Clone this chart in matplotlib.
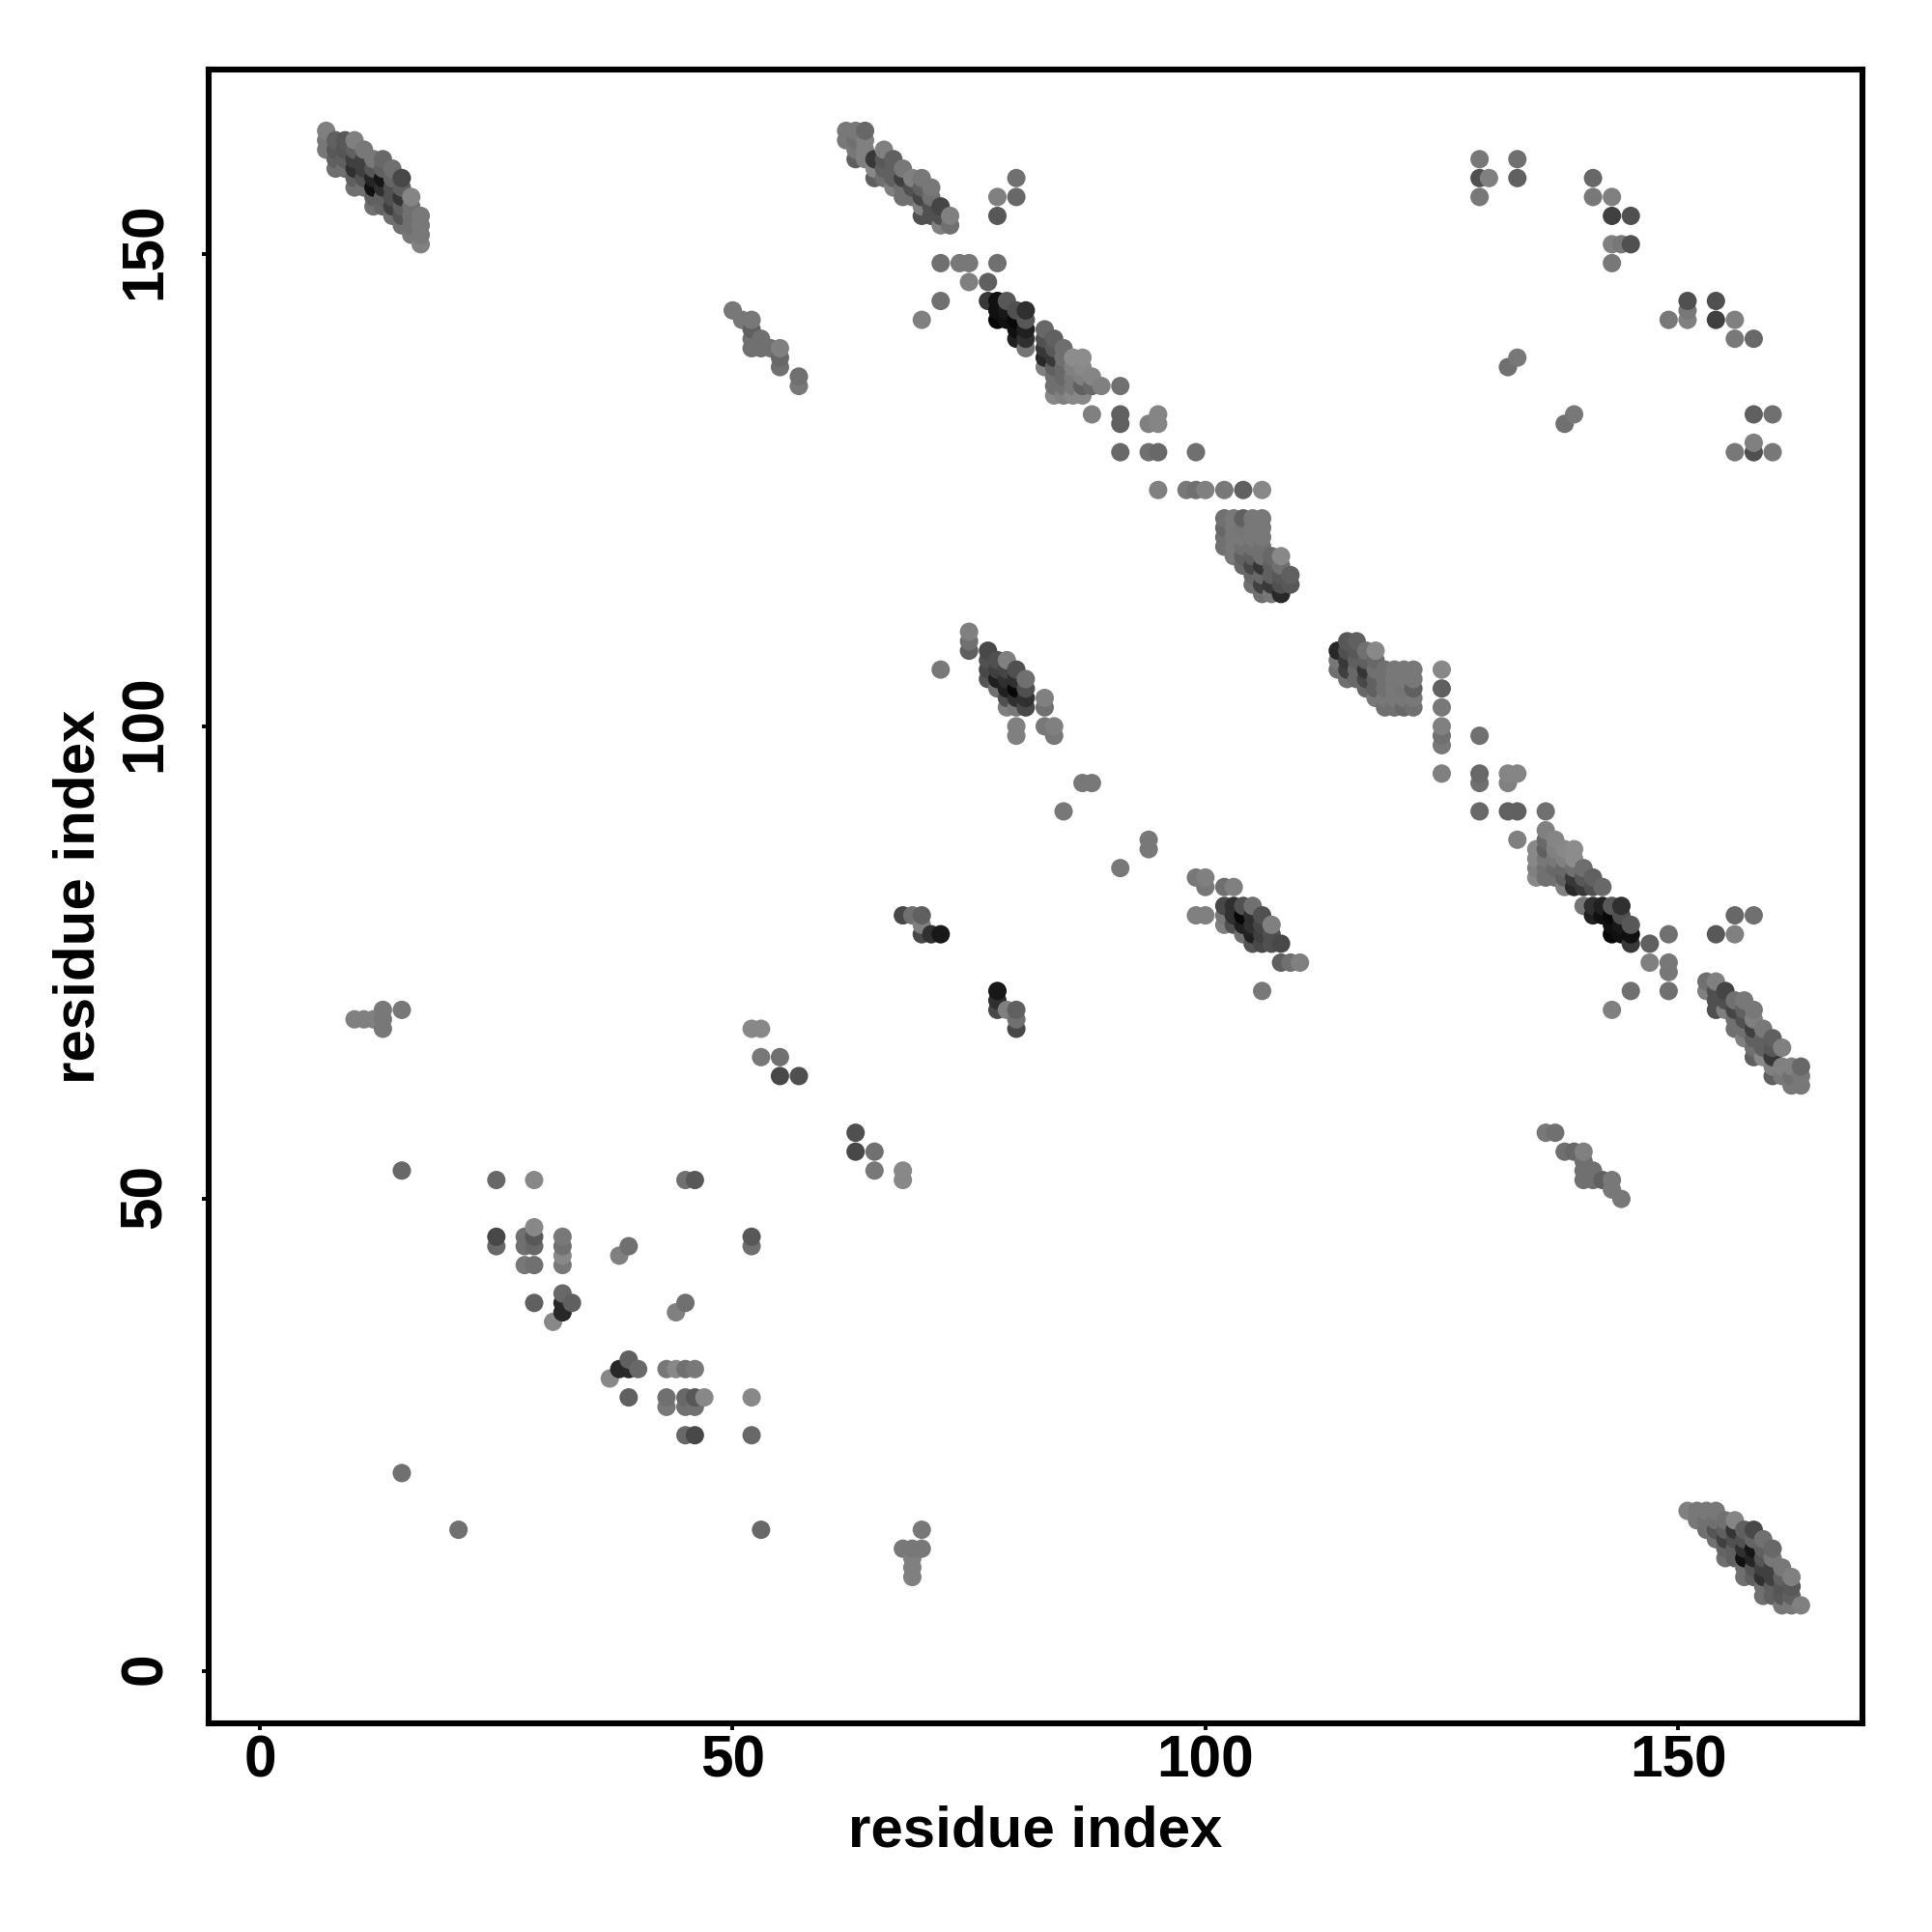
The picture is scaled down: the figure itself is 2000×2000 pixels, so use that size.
import matplotlib
matplotlib.use("Agg")
import matplotlib.pyplot as plt
from matplotlib.transforms import ScaledTranslation

# Contacts above the diagonal: (residue i, residue j, grey level 0-255).
helix_a = [
    (7,161,0x78),(7,162,0x78),(7,163,0x80),
    (8,159,0x70),(8,160,0x60),(8,161,0x58),(8,162,0x60),
    (9,159,0x70),(9,160,0x60),(9,161,0x55),(9,162,0x58),
    (10,157,0x70),(10,158,0x60),(10,159,0x30),(10,160,0x40),(10,161,0x60),(10,162,0x80),
    (11,157,0x70),(11,158,0x55),(11,159,0x40),(11,160,0x40),(11,161,0x78),
    (12,155,0x70),(12,156,0x60),(12,157,0x10),(12,158,0x25),(12,159,0x55),(12,160,0x78),
    (13,155,0x65),(13,156,0x60),(13,157,0x30),(13,158,0x15),(13,159,0x60),(13,160,0x68),
    (14,154,0x70),(14,155,0x40),(14,156,0x50),(14,157,0x50),(14,158,0x65),(14,159,0x70),
    (15,153,0x70),(15,154,0x55),(15,155,0x60),(15,156,0x35),(15,157,0x60),(15,158,0x48),
    (16,152,0x78),(16,153,0x70),(16,154,0x70),(16,155,0x70),(16,156,0x85),
    (17,151,0x80),(17,152,0x78),(17,153,0x78),(17,154,0x78),
]
helix_b = [
    (62,162,0x78),(62,163,0x78),
    (63,160,0x60),(63,161,0x78),(63,162,0x70),(63,163,0x78),
    (64,160,0x80),(64,161,0x80),(64,162,0x80),(64,163,0x68),
    (65,158,0x60),(65,159,0x88),(65,160,0x38),
    (66,158,0x70),(66,159,0x60),(66,160,0x58),(66,161,0x80),
    (67,157,0x80),(67,158,0x60),(67,159,0x60),(67,160,0x60),
    (68,156,0x70),(68,157,0x70),(68,158,0x40),(68,159,0x78),
    (69,156,0x70),(69,157,0x50),(69,158,0x80),
    (70,154,0x50),(70,155,0x80),(70,156,0x45),(70,157,0x60),(70,158,0x78),
    (71,154,0x50),(71,155,0x50),(71,156,0x70),(71,157,0x78),
    (72,153,0x80),(72,154,0x50),(72,155,0x45),
    (73,153,0x70),(73,154,0x80),
]
helix_c = [
    (77,145,0x38),
    (78,143,0x08),(78,144,0x10),(78,145,0x10),
    (79,143,0x10),(79,144,0x18),(79,145,0x58),
    (80,141,0x20),(80,142,0x10),(80,143,0x08),(80,144,0x50),
    (81,140,0x75),(81,141,0x30),(81,142,0x20),(81,143,0x58),(81,144,0x30),
    (83,138,0x80),(83,139,0x28),(83,140,0x38),(83,141,0x50),(83,142,0x68),
    (84,135,0x88),(84,136,0x70),(84,137,0x70),(84,138,0x60),(84,139,0x38),(84,140,0x58),(84,141,0x60),
    (85,135,0x80),(85,136,0x70),(85,137,0x68),(85,138,0x68),(85,139,0x70),(85,140,0x6e),
    (86,135,0x88),(86,136,0x78),(86,137,0x78),(86,138,0x80),(86,139,0x8c),
    (87,135,0x88),(87,136,0x60),(87,137,0x80),(87,138,0x88),(87,139,0x8c),
    (88,136,0x68),(88,137,0x85),
    (89,136,0x80),
]
helix_d = [
    (102,119,0x70),(102,120,0x70),(102,121,0x68),(102,122,0x70),
    (103,118,0x78),(103,119,0x78),(103,120,0x78),(103,121,0x78),(103,122,0x78),
    (104,117,0x68),(104,118,0x60),(104,119,0x70),(104,120,0x78),(104,121,0x75),(104,122,0x60),
    (105,115,0x70),(105,116,0x68),(105,117,0x48),(105,118,0x60),(105,119,0x70),(105,120,0x78),(105,121,0x78),(105,122,0x78),
    (106,114,0x70),(106,115,0x40),(106,116,0x68),(106,117,0x35),(106,118,0x70),(106,119,0x70),(106,120,0x78),(106,121,0x78),(106,122,0x78),
    (107,114,0x78),(107,115,0x38),(107,116,0x60),(107,117,0x60),(107,118,0x68),
    (108,114,0x28),(108,115,0x50),(108,116,0x58),(108,117,0x70),(108,118,0x88),
    (109,115,0x58),(109,116,0x60),
]
helix_e = [
    (72,106,0x78),
    (75,108,0x60),(75,109,0x70),(75,110,0x80),
    (77,105,0x55),(77,106,0x48),(77,107,0x50),(77,108,0x48),
    (78,104,0x70),(78,105,0x20),(78,106,0x40),(78,107,0x50),
    (79,102,0x80),(79,103,0x50),(79,104,0x20),(79,105,0x30),(79,106,0x45),(79,107,0x80),
    (80,99,0x80),(80,100,0x80),(80,102,0x78),(80,103,0x30),(80,104,0x08),(80,105,0x30),(80,106,0x50),
    (81,102,0x48),(81,103,0x30),(81,104,0x50),(81,105,0x70),
    (83,100,0x78),(83,102,0x70),(83,103,0x80),
    (84,99,0x78),(84,100,0x80),
]
strand_h = [
    (50,144,0x78),(51,143,0x78),(52,140,0x70),(52,141,0x70),(52,142,0x60),(52,143,0x78),
    (53,140,0x70),(53,141,0x70),(54,140,0x70),(55,138,0x70),(55,139,0x68),(55,140,0x80),
    (57,136,0x78),(57,137,0x70),
]
low_contacts = [
    (15,21,0x70),(15,53,0x68),(21,15,0x70),
    (10,69,0x80),(11,69,0x80),(12,69,0x80),(13,68,0x78),(13,69,0x78),(13,70,0x78),(15,70,0x78),
    (25,45,0x68),(25,46,0x48),(25,52,0x68),
    (28,43,0x78),(28,45,0x70),(28,46,0x70),
    (29,39,0x60),(29,43,0x70),(29,45,0x68),(29,46,0x58),(29,47,0x88),(29,52,0x88),
    (31,37,0x88),(32,38,0x28),(32,39,0x28),(32,40,0x68),(33,39,0x60),
    (32,43,0x78),(32,44,0x88),(32,45,0x70),(32,46,0x78),
    (38,44,0x80),(39,45,0x70),
    (45,52,0x70),(46,52,0x58),
    (52,68,0x88),(53,68,0x88),(53,65,0x78),(55,65,0x70),(55,63,0x48),(57,63,0x50),
    (68,80,0x48),(69,80,0x70),(70,78,0x48),(70,79,0x80),(70,80,0x60),(71,78,0x30),(72,78,0x18),
    (85,91,0x78),(87,94,0x78),(88,94,0x78),
]
mid_contacts = [
    (70,143,0x80),(72,145,0x70),(72,149,0x70),(74,149,0x78),(75,149,0x78),(78,149,0x70),
    (75,147,0x80),(77,147,0x60),
    (78,154,0x58),(78,156,0x80),(80,156,0x68),(80,158,0x70),
    (88,133,0x80),(91,129,0x68),(91,132,0x60),(91,133,0x60),(91,136,0x70),
    (94,129,0x70),(94,132,0x80),(95,129,0x68),(95,132,0x85),(95,133,0x85),(99,129,0x70),
    (95,125,0x80),(98,125,0x78),(99,125,0x70),(100,125,0x80),(102,125,0x78),(104,125,0x60),(106,125,0x88),
]
high_contacts = [
    (129,156,0x78),(129,158,0x50),(129,160,0x78),(130,158,0x80),(133,158,0x60),(133,160,0x70),
    (132,138,0x70),(133,139,0x78),
    (141,156,0x78),(141,158,0x68),(143,149,0x78),(143,151,0x80),(143,154,0x40),(143,156,0x80),
    (144,151,0x78),(145,151,0x50),(145,154,0x50),
]
x_ticks = [0, 50, 100, 150]
y_ticks = [0, 50, 100, 150]
x_label = "residue index"
y_label = "residue index"

groups = [helix_a, helix_b, helix_c, helix_d, helix_e, strand_h,
          low_contacts, mid_contacts, high_contacts]
# The map is symmetric: each contact is drawn at (i, j) and (j, i), in order of x then y.
seen = {}
for group in groups:
    for i, j, g in group:
        seen[(i, j)] = g
        seen[(j, i)] = g
ordered = sorted(seen.items())
xs = [k[0] for k, _ in ordered]
ys = [k[1] for k, _ in ordered]
cols = [(g / 255, g / 255, g / 255) for _, g in ordered]

plt.rcParams['font.family'] = ['Liberation Sans', 'DejaVu Sans']
plt.rcParams['font.weight'] = 'bold'

fig = plt.figure(figsize=(10, 10), dpi=200)
L, R, T, B = 216.3, 1928.0, 72.0, 1784.0
ax = fig.add_axes([L / 2000, 1 - B / 2000, (R - L) / 2000, (B - T) / 2000])
ax.scatter(xs, ys, s=47, c=cols, linewidths=0, clip_on=True)
ax.set_xlim(-5.4, 169.5)
ax.set_ylim(-5.48, 169.48)
ax.set_xticks(x_ticks)
ax.set_yticks(y_ticks)
for side in ax.spines.values():
    side.set_linewidth(2.2)
ax.tick_params(axis='x', length=2.6, width=1.4, pad=1.5, labelsize=21.8)
ax.tick_params(axis='y', length=2.6, width=1.4, pad=10.5, labelsize=21.8)
shift_up = ScaledTranslation(0, 3 / 200, fig.dpi_scale_trans)
for t in ax.get_yticklabels():
    t.set_rotation(90)
    t.set_va('center')
    t.set_transform(t.get_transform() + shift_up)
ax.set_xlabel(x_label, fontsize=21.6, fontweight='bold', va='center')
ax.set_ylabel(y_label, fontsize=21.6, fontweight='bold', va='center')
ax.xaxis.set_label_coords(0.5, (B - 1896) / (B - T))
ax.yaxis.set_label_coords((82 - L) / (R - L), 0.5)
fig.savefig("out.png", dpi=200, facecolor='white')
